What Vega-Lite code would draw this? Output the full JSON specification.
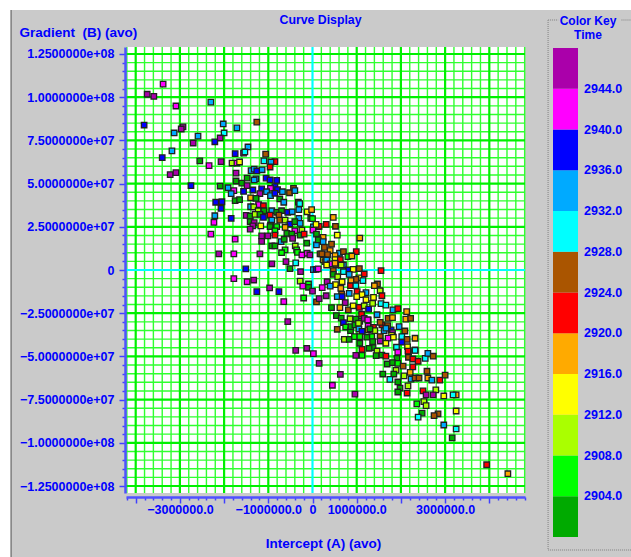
{"$schema":"https://vega.github.io/schema/vega-lite/v6.json","width":399,"height":446,"autosize":"none","padding":{"left":126,"top":47,"right":106,"bottom":64},"background":"#ffffff",
"title":{"text":"Curve Display","anchor":"middle","frame":"group","dx":-5,"offset":-17,"font":"Liberation Sans","fontSize":12.3,"fontWeight":"bold","color":"#0000ff"},
"config":{"view":{"stroke":null},"legend":{"gradientLength":489,"gradientVerticalMaxLength":489,"gradientVerticalMinLength":489},"axis":{"labelFont":"Liberation Sans","labelFontWeight":"bold","labelFontSize":12.5,"labelColor":"#0000ff","titleFont":"Liberation Sans","titleFontWeight":"bold","titleFontSize":13.5,"titleColor":"#0000ff","tickColor":"#4040ff","domainColor":"#5050ff"}},
"datasets":{
"panel":[{"x1":-6820000,"x2":8000000,"y1":150500000,"y2":-170000000}],
"plot":[{"x1":-4219500,"x2":4807500,"y1":129050000,"y2":-129050000}],
"edge":[{"x1":-6820000,"y1":150500000,"y2":-170000000}],
"frame":[{"x1":5330000,"x2":5330000,"y1":144700000,"y2":-162000000},{"x1":5330000,"x2":8000000,"y1":-162000000,"y2":-162000000},{"x1":5330000,"x2":5560000,"y1":144700000,"y2":144700000},{"x1":6990000,"x2":8000000,"y1":144700000,"y2":144700000}],
"xminor":[{"v":-4200000},{"v":-3800000},{"v":-3600000},{"v":-3400000},{"v":-3200000},{"v":-2800000},{"v":-2600000},{"v":-2400000},{"v":-2200000},{"v":-1800000},{"v":-1600000},{"v":-1400000},{"v":-1200000},{"v":-800000},{"v":-600000},{"v":-400000},{"v":-200000},{"v":200000},{"v":400000},{"v":600000},{"v":800000},{"v":1200000},{"v":1400000},{"v":1600000},{"v":1800000},{"v":2200000},{"v":2400000},{"v":2600000},{"v":2800000},{"v":3200000},{"v":3400000},{"v":3600000},{"v":3800000},{"v":4200000},{"v":4400000},{"v":4600000},{"v":4800000}],
"xmajor":[{"v":-4000000},{"v":-3000000},{"v":-2000000},{"v":-1000000},{"v":1000000},{"v":2000000},{"v":3000000},{"v":4000000}],
"yminor":[{"v":120000000},{"v":115000000},{"v":110000000},{"v":105000000},{"v":95000000},{"v":90000000},{"v":85000000},{"v":80000000},{"v":70000000},{"v":65000000},{"v":60000000},{"v":55000000},{"v":45000000},{"v":40000000},{"v":35000000},{"v":30000000},{"v":20000000},{"v":15000000},{"v":10000000},{"v":5000000},{"v":-5000000},{"v":-10000000},{"v":-15000000},{"v":-20000000},{"v":-30000000},{"v":-35000000},{"v":-40000000},{"v":-45000000},{"v":-55000000},{"v":-60000000},{"v":-65000000},{"v":-70000000},{"v":-80000000},{"v":-85000000},{"v":-90000000},{"v":-95000000},{"v":-105000000},{"v":-110000000},{"v":-115000000},{"v":-120000000}],
"ymajor":[{"v":125000000},{"v":100000000},{"v":75000000},{"v":50000000},{"v":25000000},{"v":-25000000},{"v":-50000000},{"v":-75000000},{"v":-100000000},{"v":-125000000}],
"zero":[{"v":0}],
"pts":[
{"x":-3380000,"y":107600000,"t":2942},{"x":-3740000,"y":101700000,"t":2946},{"x":-3590000,"y":100500000,"t":2946},{"x":-3090000,"y":94900000,"t":2942},{"x":-2300000,"y":97200000,"t":2934},{"x":-3810000,"y":83900000,"t":2938},{"x":-2930000,"y":82800000,"t":2946},{"x":-2970000,"y":81600000,"t":2946},{"x":-3130000,"y":79300000,"t":2934},{"x":-2590000,"y":77500000,"t":2934},{"x":-2020000,"y":84500000,"t":2934},{"x":-1710000,"y":82200000,"t":2934},{"x":-2000000,"y":79300000,"t":2930},{"x":-1260000,"y":85600000,"t":2926},{"x":-2090000,"y":76400000,"t":2946},{"x":-2210000,"y":74200000,"t":2938},{"x":-2700000,"y":73500000,"t":2946},{"x":-1460000,"y":71200000,"t":2934},{"x":-3180000,"y":68900000,"t":2934},{"x":-1750000,"y":67300000,"t":2938},{"x":-1560000,"y":67600000,"t":2946},{"x":-1530000,"y":68300000,"t":2930},{"x":-3400000,"y":65000000,"t":2938},{"x":-1060000,"y":67100000,"t":2926},{"x":-2550000,"y":63100000,"t":2902},{"x":-2070000,"y":62700000,"t":2946},{"x":-2340000,"y":60400000,"t":2942},{"x":-1820000,"y":61900000,"t":2910},{"x":-1710000,"y":61900000,"t":2942},{"x":-1650000,"y":62500000,"t":2914},{"x":-1100000,"y":63100000,"t":2930},{"x":-850000,"y":62700000,"t":2922},{"x":-940000,"y":62500000,"t":2934},{"x":-960000,"y":59600000,"t":2922},{"x":-1390000,"y":57500000,"t":2934},{"x":-1320000,"y":58400000,"t":2934},{"x":-1260000,"y":57300000,"t":2938},{"x":-1140000,"y":58000000,"t":2934},{"x":-3220000,"y":55200000,"t":2946},{"x":-3090000,"y":56300000,"t":2946},{"x":-1730000,"y":56100000,"t":2946},{"x":-1480000,"y":53200000,"t":2902},{"x":-1280000,"y":52700000,"t":2934},{"x":-1320000,"y":52100000,"t":2934},{"x":-1730000,"y":51500000,"t":2902},{"x":-1600000,"y":50300000,"t":2902},{"x":-1050000,"y":53200000,"t":2938},{"x":-960000,"y":52100000,"t":2938},{"x":-810000,"y":51900000,"t":2938},{"x":-1480000,"y":48800000,"t":2946},{"x":-2090000,"y":48600000,"t":2902},{"x":-2750000,"y":48800000,"t":2938},{"x":-1910000,"y":47600000,"t":2934},{"x":-1780000,"y":45900000,"t":2942},{"x":-1840000,"y":44200000,"t":2934},{"x":-1560000,"y":45500000,"t":2938},{"x":-1350000,"y":46300000,"t":2938},{"x":-1150000,"y":46900000,"t":2938},{"x":-850000,"y":48200000,"t":2938},{"x":-790000,"y":46500000,"t":2938},{"x":-950000,"y":47300000,"t":2942},{"x":-1190000,"y":44200000,"t":2946},{"x":-1040000,"y":45300000,"t":2934},{"x":-950000,"y":43000000,"t":2934},{"x":-850000,"y":44400000,"t":2938},{"x":-430000,"y":47300000,"t":2926},{"x":-680000,"y":45300000,"t":2934},{"x":-520000,"y":44700000,"t":2926},{"x":-400000,"y":45900000,"t":2934},{"x":-1400000,"y":41800000,"t":2918},{"x":-1280000,"y":41500000,"t":2902},{"x":-1750000,"y":40100000,"t":2902},{"x":-1650000,"y":40700000,"t":2902},{"x":-740000,"y":41100000,"t":2902},{"x":-650000,"y":39200000,"t":2934},{"x":-2190000,"y":39200000,"t":2938},{"x":-2050000,"y":39500000,"t":2938},{"x":-2070000,"y":35700000,"t":2938},{"x":-1220000,"y":37800000,"t":2942},{"x":-1110000,"y":37200000,"t":2922},{"x":-1400000,"y":36600000,"t":2934},{"x":-1330000,"y":36500000,"t":2910},{"x":-1230000,"y":34300000,"t":2910},{"x":-1100000,"y":34300000,"t":2902},{"x":-920000,"y":34300000,"t":2934},{"x":-810000,"y":33400000,"t":2902},{"x":-700000,"y":34300000,"t":2902},{"x":-560000,"y":33400000,"t":2938},{"x":-320000,"y":39200000,"t":2926},{"x":-290000,"y":38400000,"t":2930},{"x":-310000,"y":34900000,"t":2934},{"x":-460000,"y":33700000,"t":2934},{"x":-120000,"y":33700000,"t":2914},{"x":-20000,"y":34900000,"t":2918},{"x":-2210000,"y":31400000,"t":2934},{"x":-2230000,"y":27600000,"t":2942},{"x":-1840000,"y":29900000,"t":2938},{"x":-1500000,"y":31600000,"t":2946},{"x":-1410000,"y":31200000,"t":2902},{"x":-1300000,"y":32200000,"t":2910},{"x":-1190000,"y":32200000,"t":2902},{"x":-960000,"y":31800000,"t":2922},{"x":-760000,"y":31800000,"t":2926},{"x":-1110000,"y":30500000,"t":2938},{"x":-920000,"y":28900000,"t":2934},{"x":-740000,"y":28900000,"t":2926},{"x":-620000,"y":28900000,"t":2910},{"x":-510000,"y":26600000,"t":2938},{"x":-310000,"y":29900000,"t":2934},{"x":-40000,"y":29900000,"t":2902},{"x":0,"y":29700000,"t":2906},{"x":-1410000,"y":28000000,"t":2902},{"x":-1320000,"y":27400000,"t":2946},{"x":-1350000,"y":25500000,"t":2946},{"x":-1170000,"y":25500000,"t":2914},{"x":-1410000,"y":23700000,"t":2946},{"x":-950000,"y":26000000,"t":2902},{"x":-960000,"y":25100000,"t":2902},{"x":-810000,"y":25100000,"t":2906},{"x":-620000,"y":24700000,"t":2918},{"x":-400000,"y":28000000,"t":2902},{"x":-280000,"y":27000000,"t":2934},{"x":-400000,"y":22700000,"t":2942},{"x":-240000,"y":23100000,"t":2910},{"x":-850000,"y":22700000,"t":2906},{"x":-580000,"y":21200000,"t":2902},{"x":-470000,"y":20800000,"t":2902},{"x":-280000,"y":20200000,"t":2902},{"x":-190000,"y":20800000,"t":2922},{"x":20000,"y":25000000,"t":2934},{"x":130000,"y":25100000,"t":2922},{"x":10000,"y":23100000,"t":2942},{"x":90000,"y":20800000,"t":2902},{"x":-1150000,"y":19700000,"t":2946},{"x":-1010000,"y":19700000,"t":2946},{"x":-850000,"y":20200000,"t":2922},{"x":-2300000,"y":20800000,"t":2942},{"x":-1750000,"y":17900000,"t":2942},{"x":-710000,"y":16400000,"t":2934},{"x":-450000,"y":18300000,"t":2946},{"x":-640000,"y":17800000,"t":2902},{"x":-130000,"y":15500000,"t":2902},{"x":90000,"y":14500000,"t":2934},{"x":130000,"y":17800000,"t":2902},{"x":-1150000,"y":16600000,"t":2946},{"x":-920000,"y":13900000,"t":2902},{"x":-850000,"y":13900000,"t":2902},{"x":-390000,"y":13900000,"t":2910},{"x":-620000,"y":11600000,"t":2906},{"x":-360000,"y":11600000,"t":2906},{"x":-700000,"y":10000000,"t":2906},{"x":-340000,"y":10200000,"t":2906},{"x":-2120000,"y":9300000,"t":2946},{"x":-1780000,"y":9300000,"t":2942},{"x":-1190000,"y":9300000,"t":2946},{"x":-240000,"y":8700000,"t":2942},{"x":-120000,"y":9700000,"t":2942},{"x":-60000,"y":8700000,"t":2946},{"x":170000,"y":9300000,"t":2926},{"x":-920000,"y":3600000,"t":2946},{"x":-600000,"y":4800000,"t":2946},{"x":-380000,"y":4100000,"t":2930},{"x":-1510000,"y":600000,"t":2938},{"x":-510000,"y":800000,"t":2902},{"x":-270000,"y":-1000000,"t":2946},{"x":20000,"y":200000,"t":2934},{"x":80000,"y":400000,"t":2938},{"x":130000,"y":600000,"t":2942},{"x":-1780000,"y":-5000000,"t":2942},{"x":-1480000,"y":-6800000,"t":2942},{"x":-1330000,"y":-5800000,"t":2946},{"x":-1260000,"y":-12500000,"t":2938},{"x":-970000,"y":-10400000,"t":2946},{"x":-760000,"y":-12500000,"t":2938},{"x":-650000,"y":-18300000,"t":2942},{"x":-560000,"y":-29900000,"t":2946},{"x":-280000,"y":-6400000,"t":2910},{"x":-220000,"y":-9300000,"t":2942},{"x":-90000,"y":-8100000,"t":2906},{"x":-90000,"y":-10000000,"t":2902},{"x":0,"y":-12200000,"t":2946},{"x":-200000,"y":-16200000,"t":2906},{"x":90000,"y":-18500000,"t":2926},{"x":-380000,"y":-46500000,"t":2946},{"x":-130000,"y":-45300000,"t":2946},{"x":20000,"y":-48400000,"t":2942},{"x":150000,"y":-54000000,"t":2946},
{"x":470000,"y":30500000,"t":2918},{"x":150000,"y":25300000,"t":2922},{"x":310000,"y":26400000,"t":2922},{"x":520000,"y":25300000,"t":2926},{"x":80000,"y":26400000,"t":2914},{"x":560000,"y":20200000,"t":2914},{"x":1070000,"y":18500000,"t":2918},{"x":240000,"y":18900000,"t":2918},{"x":130000,"y":17400000,"t":2902},{"x":240000,"y":16400000,"t":2934},{"x":430000,"y":15000000,"t":2926},{"x":270000,"y":13100000,"t":2926},{"x":400000,"y":11200000,"t":2918},{"x":610000,"y":9700000,"t":2934},{"x":700000,"y":10600000,"t":2926},{"x":990000,"y":10600000,"t":2922},{"x":210000,"y":9300000,"t":2926},{"x":340000,"y":8900000,"t":2926},{"x":510000,"y":8300000,"t":2918},{"x":800000,"y":7700000,"t":2906},{"x":890000,"y":8100000,"t":2918},{"x":240000,"y":5800000,"t":2914},{"x":510000,"y":6000000,"t":2914},{"x":630000,"y":6000000,"t":2922},{"x":280000,"y":4800000,"t":2926},{"x":320000,"y":5800000,"t":2934},{"x":400000,"y":3500000,"t":2942},{"x":320000,"y":2900000,"t":2914},{"x":530000,"y":2900000,"t":2926},{"x":700000,"y":2900000,"t":2934},{"x":650000,"y":2900000,"t":2910},{"x":510000,"y":3900000,"t":2918},{"x":810000,"y":0,"t":2938},{"x":920000,"y":400000,"t":2914},{"x":1060000,"y":800000,"t":2926},{"x":1170000,"y":-2300000,"t":2922},{"x":1550000,"y":-400000,"t":2922},
{"x":470000,"y":-400000,"t":2926},{"x":700000,"y":-1000000,"t":2930},{"x":830000,"y":-2500000,"t":2934},{"x":470000,"y":-2500000,"t":2902},{"x":570000,"y":-3900000,"t":2910},{"x":1050000,"y":-4500000,"t":2914},{"x":980000,"y":-5400000,"t":2926},{"x":870000,"y":-6200000,"t":2918},{"x":1140000,"y":-6200000,"t":2930},{"x":670000,"y":-6800000,"t":2914},{"x":330000,"y":-6800000,"t":2946},{"x":520000,"y":-8500000,"t":2914},{"x":400000,"y":-9300000,"t":2934},{"x":860000,"y":-9100000,"t":2922},{"x":980000,"y":-9100000,"t":2930},{"x":220000,"y":-10200000,"t":2942},{"x":640000,"y":-10600000,"t":2918},{"x":1010000,"y":-12500000,"t":2922},{"x":830000,"y":-13500000,"t":2934},{"x":660000,"y":-13900000,"t":2926},{"x":1210000,"y":-13100000,"t":2934},{"x":1120000,"y":-14300000,"t":2914},{"x":310000,"y":-14900000,"t":2946},{"x":560000,"y":-15400000,"t":2934},{"x":670000,"y":-15400000,"t":2938},{"x":1000000,"y":-15400000,"t":2914},{"x":150000,"y":-16600000,"t":2946},{"x":1210000,"y":-17200000,"t":2914},{"x":740000,"y":-18900000,"t":2946},{"x":430000,"y":-21800000,"t":2902},{"x":620000,"y":-21800000,"t":2918},{"x":810000,"y":-23100000,"t":2926},{"x":920000,"y":-20700000,"t":2914},{"x":1060000,"y":-21600000,"t":2922},{"x":1170000,"y":-20700000,"t":2910},{"x":1270000,"y":-22600000,"t":2938},{"x":1470000,"y":-8100000,"t":2926},{"x":1400000,"y":-9100000,"t":2918},{"x":1530000,"y":-12000000,"t":2910},{"x":1570000,"y":-14900000,"t":2922},{"x":1380000,"y":-15800000,"t":2914},{"x":1360000,"y":-19300000,"t":2910},{"x":1550000,"y":-19500000,"t":2930},{"x":1660000,"y":-20300000,"t":2930},{"x":1820000,"y":-23100000,"t":2934},{"x":1930000,"y":-22400000,"t":2922},{"x":2130000,"y":-24100000,"t":2918},{"x":2110000,"y":-28400000,"t":2918},{"x":2220000,"y":-28000000,"t":2926},{"x":1710000,"y":-28000000,"t":2926},{"x":1810000,"y":-27600000,"t":2918},{"x":1460000,"y":-25900000,"t":2934},{"x":1110000,"y":-25600000,"t":2922},{"x":540000,"y":-26400000,"t":2902},{"x":650000,"y":-27800000,"t":2902},{"x":700000,"y":-30500000,"t":2938},{"x":750000,"y":-33000000,"t":2906},{"x":860000,"y":-35100000,"t":2902},{"x":870000,"y":-32800000,"t":2902},{"x":960000,"y":-31800000,"t":2902},{"x":1050000,"y":-34100000,"t":2934},{"x":1070000,"y":-29700000,"t":2906},{"x":850000,"y":-28200000,"t":2910},{"x":980000,"y":-28400000,"t":2902},{"x":1170000,"y":-28000000,"t":2946},{"x":1260000,"y":-28800000,"t":2946},{"x":1250000,"y":-28900000,"t":2942},{"x":1040000,"y":-30800000,"t":2910},{"x":1260000,"y":-32400000,"t":2942},{"x":1120000,"y":-35500000,"t":2938},{"x":1260000,"y":-34700000,"t":2918},{"x":1380000,"y":-33200000,"t":2922},{"x":1410000,"y":-35100000,"t":2910},{"x":1570000,"y":-31700000,"t":2922},{"x":1620000,"y":-35100000,"t":2934},{"x":1530000,"y":-30300000,"t":2926},{"x":1780000,"y":-34700000,"t":2938},{"x":1300000,"y":-34100000,"t":2902},{"x":560000,"y":-34300000,"t":2926},{"x":1960000,"y":-32800000,"t":2934},{"x":1700000,"y":-32200000,"t":2926},{"x":1660000,"y":-33700000,"t":2934},{"x":2090000,"y":-35300000,"t":2926},{"x":1810000,"y":-36300000,"t":2942},{"x":1790000,"y":-37600000,"t":2914},{"x":2020000,"y":-38600000,"t":2930},{"x":2140000,"y":-40100000,"t":2926},{"x":2320000,"y":-39500000,"t":2918},{"x":720000,"y":-40100000,"t":2910},{"x":830000,"y":-40100000,"t":2902},{"x":950000,"y":-38600000,"t":2906},{"x":1070000,"y":-38600000,"t":2906},{"x":1340000,"y":-38600000,"t":2906},{"x":1230000,"y":-38900000,"t":2902},{"x":1530000,"y":-38600000,"t":2926},{"x":1710000,"y":-39400000,"t":2942},{"x":1830000,"y":-38900000,"t":2914},{"x":1070000,"y":-42400000,"t":2902},{"x":1360000,"y":-41500000,"t":2902},{"x":1530000,"y":-41100000,"t":2946},{"x":1660000,"y":-42400000,"t":2914},{"x":2020000,"y":-41800000,"t":2938},{"x":1370000,"y":-44900000,"t":2902},{"x":1280000,"y":-45300000,"t":2902},{"x":1120000,"y":-45900000,"t":2922},{"x":1900000,"y":-44700000,"t":2930},{"x":2150000,"y":-44400000,"t":2914},{"x":1460000,"y":-46900000,"t":2910},{"x":2170000,"y":-47300000,"t":2922},{"x":2320000,"y":-46300000,"t":2930},{"x":1930000,"y":-47600000,"t":2942},{"x":1120000,"y":-49400000,"t":2906},{"x":980000,"y":-49400000,"t":2946},{"x":1440000,"y":-49600000,"t":2902},{"x":1570000,"y":-49200000,"t":2902},{"x":1660000,"y":-49800000,"t":2922},{"x":1910000,"y":-51100000,"t":2902},{"x":1690000,"y":-54400000,"t":2902},{"x":1810000,"y":-53600000,"t":2902},{"x":1930000,"y":-54000000,"t":2906},{"x":2170000,"y":-50500000,"t":2926},{"x":2270000,"y":-51500000,"t":2922},{"x":2390000,"y":-52800000,"t":2922},{"x":2550000,"y":-51100000,"t":2930},{"x":2610000,"y":-48200000,"t":2934},{"x":2730000,"y":-49900000,"t":2926},{"x":2320000,"y":-46500000,"t":2930},{"x":2160000,"y":-46900000,"t":2922},{"x":2050000,"y":-55600000,"t":2926},{"x":2270000,"y":-56100000,"t":2922},{"x":1890000,"y":-58000000,"t":2910},{"x":1590000,"y":-60200000,"t":2902},{"x":1840000,"y":-60200000,"t":2902},{"x":2210000,"y":-59200000,"t":2918},{"x":2070000,"y":-61300000,"t":2910},{"x":2230000,"y":-63100000,"t":2934},{"x":2320000,"y":-62500000,"t":2926},{"x":2410000,"y":-62500000,"t":2926},{"x":2590000,"y":-58600000,"t":2926},{"x":1750000,"y":-63300000,"t":2930},{"x":1930000,"y":-64800000,"t":2902},{"x":2610000,"y":-62500000,"t":2918},{"x":2700000,"y":-63700000,"t":2934},{"x":2880000,"y":-63700000,"t":2922},{"x":3000000,"y":-60800000,"t":2926},{"x":630000,"y":-60400000,"t":2946},{"x":450000,"y":-66700000,"t":2942},{"x":2160000,"y":-67100000,"t":2910},{"x":1980000,"y":-68300000,"t":2902},{"x":2500000,"y":-70000000,"t":2922},{"x":2790000,"y":-69400000,"t":2910},{"x":1930000,"y":-70600000,"t":2902},{"x":2140000,"y":-71200000,"t":2922},{"x":960000,"y":-71800000,"t":2946},{"x":2570000,"y":-72300000,"t":2946},{"x":2730000,"y":-72300000,"t":2946},{"x":2970000,"y":-72900000,"t":2914},{"x":3250000,"y":-72300000,"t":2918},{"x":3180000,"y":-72300000,"t":2930},{"x":2520000,"y":-76200000,"t":2910},{"x":2360000,"y":-77500000,"t":2906},{"x":2570000,"y":-78500000,"t":2910},{"x":3250000,"y":-81600000,"t":2914},{"x":2480000,"y":-82800000,"t":2902},{"x":2840000,"y":-83200000,"t":2926},{"x":2750000,"y":-84300000,"t":2926},{"x":2390000,"y":-85100000,"t":2930},{"x":2970000,"y":-89700000,"t":2934},{"x":3250000,"y":-92000000,"t":2930},{"x":3160000,"y":-97200000,"t":2902},{"x":3940000,"y":-112700000,"t":2922},{"x":4420000,"y":-117900000,"t":2918}
]},
"resolve":{"axis":{"x":"independent","y":"independent"}},
"layer":[
{"data":{"name":"panel"},"mark":{"type":"rect","fill":"#cacaca"},"encoding":{"x":{"field":"x1","type":"quantitative","axis":null,"scale":{"domain":[-4219500,4807500],"nice":false,"zero":false}},"x2":{"field":"x2"},"y":{"field":"y1","type":"quantitative","axis":null,"scale":{"domain":[-129050000,129050000],"nice":false,"zero":false}},"y2":{"field":"y2"}}},
{"data":{"name":"edge"},"mark":{"type":"rule","stroke":"#666666","strokeWidth":1.2},"encoding":{"x":{"field":"x1","type":"quantitative","axis":null,"scale":{"domain":[-4219500,4807500],"nice":false,"zero":false}},"y":{"field":"y1","type":"quantitative","axis":null,"scale":{"domain":[-129050000,129050000],"nice":false,"zero":false}},"y2":{"field":"y2"}}},
{"data":{"name":"frame"},"mark":{"type":"rule","stroke":"#999999","strokeWidth":1.5,"strokeDash":[1,1]},"encoding":{"x":{"field":"x1","type":"quantitative","axis":null,"scale":{"domain":[-4219500,4807500],"nice":false,"zero":false}},"x2":{"field":"x2"},"y":{"field":"y1","type":"quantitative","axis":null,"scale":{"domain":[-129050000,129050000],"nice":false,"zero":false}},"y2":{"field":"y2"}}},
{"data":{"name":"plot"},"mark":{"type":"rect","fill":"#ffffff"},"encoding":{"x":{"field":"x1","type":"quantitative","axis":null,"scale":{"domain":[-4219500,4807500],"nice":false,"zero":false}},"x2":{"field":"x2"},"y":{"field":"y1","type":"quantitative","axis":null,"scale":{"domain":[-129050000,129050000],"nice":false,"zero":false}},"y2":{"field":"y2"}}},
{"data":{"name":"xminor"},"mark":{"type":"rule","stroke":"#30ff30","strokeWidth":1.4},"encoding":{"x":{"field":"v","type":"quantitative","scale":{"domain":[-4219500,4807500],"nice":false,"zero":false},"axis":{"orient":"bottom","zindex":1,"values":[-4200000,-3800000,-3600000,-3400000,-3200000,-2800000,-2600000,-2400000,-2200000,-1800000,-1600000,-1400000,-1200000,-800000,-600000,-400000,-200000,200000,400000,600000,800000,1200000,1400000,1600000,1800000,2200000,2400000,2600000,2800000,3200000,3400000,3600000,3800000,4200000,4400000,4600000,4800000],"labels":false,"title":null,"domain":false,"grid":false,"tickSize":3,"tickWidth":1.5,"offset":4}}}},
{"data":{"name":"yminor"},"mark":{"type":"rule","stroke":"#30ff30","strokeWidth":1.4},"encoding":{"y":{"field":"v","type":"quantitative","scale":{"domain":[-129050000,129050000],"nice":false,"zero":false},"axis":{"orient":"left","zindex":1,"values":[120000000,115000000,110000000,105000000,95000000,90000000,85000000,80000000,70000000,65000000,60000000,55000000,45000000,40000000,35000000,30000000,20000000,15000000,10000000,5000000,-5000000,-10000000,-15000000,-20000000,-30000000,-35000000,-40000000,-45000000,-55000000,-60000000,-65000000,-70000000,-80000000,-85000000,-90000000,-95000000,-105000000,-110000000,-115000000,-120000000],"labels":false,"title":null,"domain":false,"grid":false,"tickSize":3,"tickWidth":1.5,"offset":1}}}},
{"data":{"name":"xmajor"},"mark":{"type":"rule","stroke":"#00f000","strokeWidth":2.2},"encoding":{"x":{"field":"v","type":"quantitative","scale":{"domain":[-4219500,4807500],"nice":false,"zero":false},"axis":{"orient":"bottom","zindex":1,"values":[-4000000,-3000000,-2000000,-1000000,0,1000000,2000000,3000000,4000000],"labelExpr":"datum.value==0?'0':(abs(datum.value)==3000000||abs(datum.value)==1000000?format(datum.value,'.1f'):'')","labelPadding":0,"labelOverlap":false,"labelFlush":false,"title":"Intercept (A) (avo)","titleX":197,"titleY":50,"titleBaseline":"alphabetic","titleAlign":"center","domainWidth":2.5,"grid":false,"tickSize":6,"tickWidth":1.5,"offset":4}}}},
{"data":{"name":"ymajor"},"mark":{"type":"rule","stroke":"#00f000","strokeWidth":2.2},"encoding":{"y":{"field":"v","type":"quantitative","scale":{"domain":[-129050000,129050000],"nice":false,"zero":false},"axis":{"orient":"left","zindex":1,"values":[125000000,100000000,75000000,50000000,25000000,0,-25000000,-50000000,-75000000,-100000000,-125000000],"labelExpr":"datum.value==0?'0':replace(format(datum.value,'.7e'),'e+','e+0')","labelPadding":5,"labelOverlap":false,"labelFlush":false,"title":"Gradient \u00a0(B) (avo)","titleAngle":0,"titleAlign":"left","titleBaseline":"alphabetic","titleX":-106,"titleY":-11,"domainWidth":2.5,"grid":false,"tickSize":6,"tickWidth":1.5,"offset":1}}}},
{"data":{"name":"zero"},"mark":{"type":"rule","stroke":"#00ffff","strokeWidth":2.2},"encoding":{"x":{"field":"v","type":"quantitative","axis":null,"scale":{"domain":[-4219500,4807500],"nice":false,"zero":false}}}},
{"data":{"name":"zero"},"mark":{"type":"rule","stroke":"#00ffff","strokeWidth":2.2},"encoding":{"y":{"field":"v","type":"quantitative","axis":null,"scale":{"domain":[-129050000,129050000],"nice":false,"zero":false}}}},
{"data":{"name":"pts"},"mark":{"type":"point","shape":"square","filled":true,"size":30,"opacity":1,"stroke":"#202020","strokeWidth":1.3},"encoding":{"x":{"field":"x","type":"quantitative","axis":null,"scale":{"domain":[-4219500,4807500],"nice":false,"zero":false}},"y":{"field":"y","type":"quantitative","axis":null,"scale":{"domain":[-129050000,129050000],"nice":false,"zero":false}},"fill":{"field":"t","type":"quantitative","scale":{"type":"threshold","domain":[2904,2908,2912,2916,2920,2924,2928,2932,2936,2940,2944],"range":["#00aa00","#00ff00","#aaff00","#ffff00","#ffaa00","#ff0000","#aa5500","#00ffff","#00aaff","#0000ff","#ff00ff","#aa00aa"]},"legend":{"type":"gradient","orient":"none","legendX":427,"legendY":-31,"title":["Color Key","Time"],"titleFont":"Liberation Sans","titleFontWeight":"bold","titleFontSize":12,"titleColor":"#0000ff","titleAnchor":"middle","titleAlign":"center","titleLineHeight":14,"titlePadding":6,"gradientLength":489,"gradientThickness":25,"labelFont":"Liberation Sans","labelFontWeight":"bold","labelFontSize":12.5,"labelColor":"#0000ff","labelOffset":6,"format":".1f","padding":0}}}}
]}
